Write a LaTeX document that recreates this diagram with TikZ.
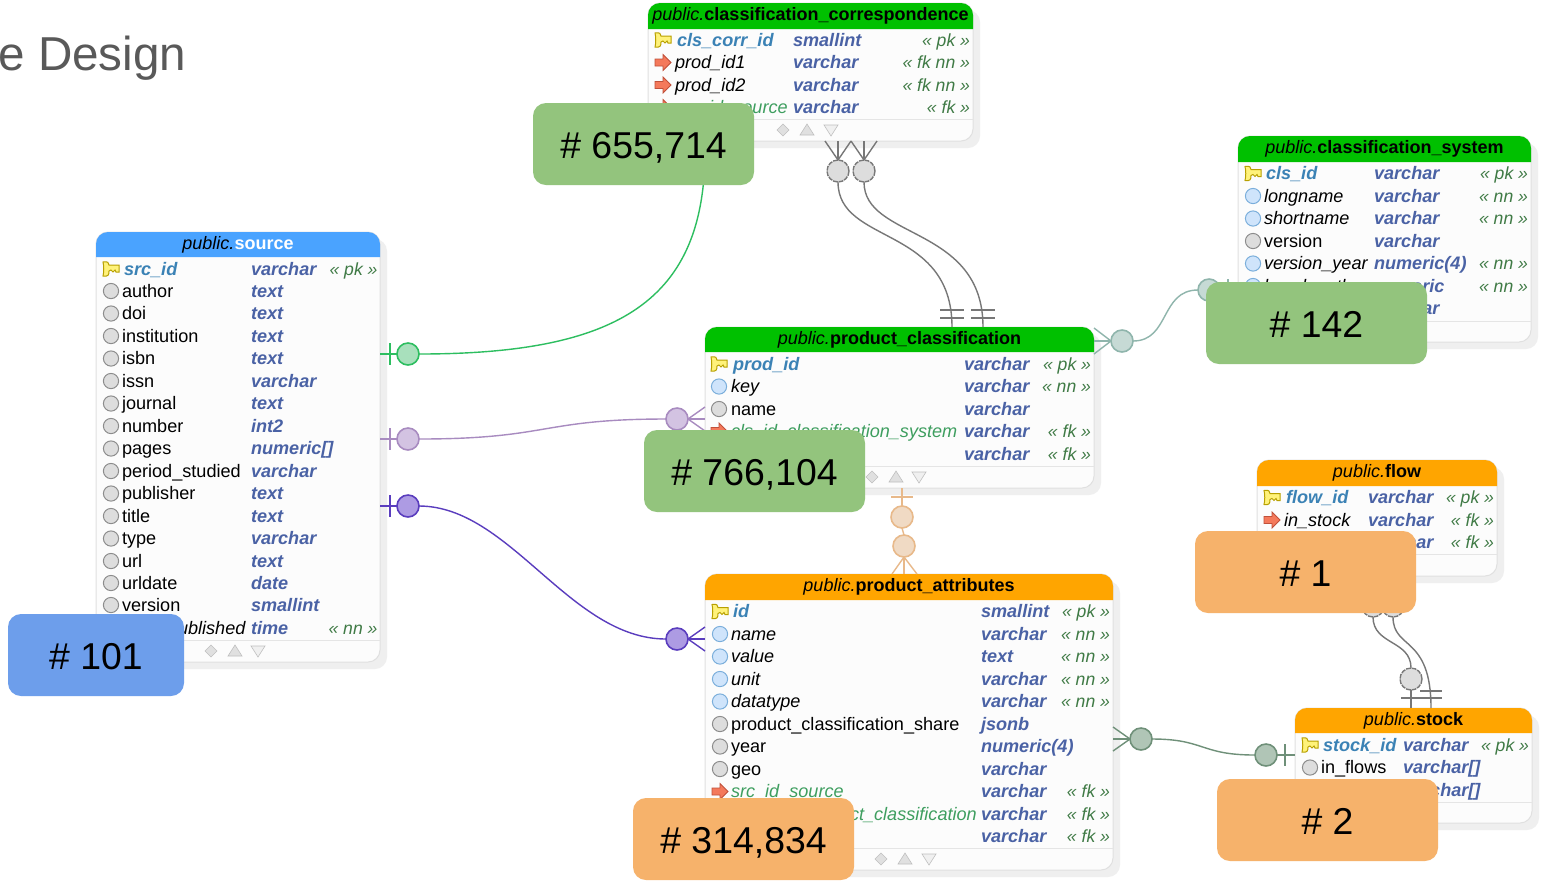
\documentclass[tikz,border=0pt]{standalone}
\usepackage{fontspec}
\setmainfont{Liberation Sans}
\usetikzlibrary{calc}
\definecolor{hgreen}{HTML}{00C000}
\definecolor{hblue}{HTML}{4AA3FF}
\definecolor{horange}{HTML}{FFA500}
\definecolor{typec}{HTML}{4A62A5}
\definecolor{pkc}{HTML}{3B82B5}
\definecolor{fkname}{HTML}{3E9E5F}
\definecolor{flagc}{HTML}{3F7A45}
\definecolor{shadowc}{HTML}{EFEFEF}
\definecolor{bodyc}{HTML}{FCFCFC}
\definecolor{calg}{HTML}{93C47D}
\definecolor{calo}{HTML}{F6B26B}
\definecolor{calb}{HTML}{6D9EEB}
\definecolor{titlec}{HTML}{595959}
\definecolor{gcs}{HTML}{2DBE60}\definecolor{gcf}{HTML}{A8E0BC}
\definecolor{pcs}{HTML}{A88BC0}\definecolor{pcf}{HTML}{D3C3E2}
\definecolor{vcs}{HTML}{5A3DBE}\definecolor{vcf}{HTML}{AD9BE3}
\definecolor{ncs}{HTML}{777777}\definecolor{ncf}{HTML}{DDDDDD}
\definecolor{tcs}{HTML}{8FB5AC}\definecolor{tcf}{HTML}{C6DAD5}
\definecolor{ocs}{HTML}{E8B98A}\definecolor{ocf}{HTML}{F0DAC4}
\definecolor{dcs}{HTML}{6F9079}\definecolor{dcf}{HTML}{B0C5B6}
\definecolor{keyf}{HTML}{FFF27A}\definecolor{keyd}{HTML}{B8A000}
\definecolor{fkf}{HTML}{F4795B}\definecolor{fkd}{HTML}{C0503A}
\definecolor{dotbf}{HTML}{CFE4FB}\definecolor{dotbd}{HTML}{7AAEDB}
\newcommand\rowfont{\fontsize{9.05pt}{11pt}\selectfont}
\newcommand\flagfont{\fontsize{8.8pt}{11pt}\selectfont}
\newcommand\headfont{\fontsize{9pt}{11pt}\selectfont}
\newcounter{rowno}
\tikzset{
  x=0.5pt,y=-0.5pt,
  tablebody/.style={draw=black!12,fill=bodyc,rounded corners=6pt,line width=0.5pt,inner sep=0pt,outer sep=0pt,anchor=north west},
  rowtext/.style={inner sep=0pt,outer sep=0pt,anchor=base west,font=\rowfont},
  rowflag/.style={inner sep=0pt,outer sep=0pt,anchor=base east,font=\flagfont\itshape,text=flagc},
  erdot/.style n args={2}{circle,draw=#1,fill=#2,line width=0.8pt,minimum size=11pt,inner sep=0pt,outer sep=0pt},
  erdash/.style={circle,draw=ncs,fill=ncf,line width=0.7pt,dash pattern=on 2.4pt off 0.5pt,minimum size=11pt,inner sep=0pt,outer sep=0pt},
  link/.style={line width=0.7pt},
  callout/.style={rounded corners=6.5pt,inner sep=0pt,outer sep=0pt,minimum width=110.5pt,minimum height=41pt,anchor=north west,text=black,font=\fontsize{18.7pt}{22pt}\selectfont},
  keyicon/.pic={\path[fill=keyf,draw=keyd,line width=0.5pt]
     (-8,-7) .. controls (-3,-8) and (-2,-6) .. (-2,-4) -- (8,-4) -- (8,3) -- (5,3) -- (4,1) -- (2,3) -- (0,1) -- (-2,2)
     .. controls (-2,6) and (-3,8) .. (-8,7) .. controls (-7,3) and (-7,-3) .. (-8,-7) -- cycle;},
  fkicon/.pic={\path[fill=fkf,draw=fkd,line width=0.4pt]
     (-8,-3.5) -- (0,-3.5) -- (0,-8) -- (8,0) -- (0,8) -- (0,3.5) -- (-8,3.5) -- cycle;},
  dotgrey/.pic={\path[fill=ncf,draw=black!45,line width=0.5pt] (0,0) circle (3.8pt);},
  dotblue/.pic={\path[fill=dotbf,draw=dotbd,line width=0.5pt] (0,0) circle (3.8pt);},
}
% name, x0, y0, x1, y1, header bottom, colour, title-text
\newcommand\dbtable[8]{%
  \fill[shadowc,rounded corners=6pt] (#2+7,#3+7) rectangle (#4+7,#5+7);
  \pgfmathsetmacro\tw{(#4-#2)*0.5}\pgfmathsetmacro\th{(#5-#3)*0.5}
  \node[tablebody,minimum width=\tw pt,minimum height=\th pt] (#1) at (#2,#3) {};
  \fill[#7] (#2,#6) {[rounded corners=6pt] -- (#2,#3) -- (#4,#3)} -- (#4,#6) -- cycle;
  \node[inner sep=0pt,anchor=base,font=\headfont] (#1-title) at ({(#2+#4)/2},#3+17) {#8};
}
% icon x, name x, type x, flag right x
\newcommand\cols[4]{\def\ix{#1}\def\nx{#2}\def\tx{#3}\def\fx{#4}}
% y, icon pic, name (formatted), type, flag
\newcommand\dbrow[5]{%
  \stepcounter{rowno}%
  \ifx\relax#2\relax\else\pic at (\ix,#1) {#2};\fi
  \node[rowtext] (r\arabic{rowno}n) at (\nx,#1+6) {#3};
  \node[rowtext,text=typec,font=\rowfont\bfseries\itshape] (r\arabic{rowno}t) at (\tx,#1+6) {#4};
  \node[rowflag] (r\arabic{rowno}f) at (\fx,#1+6) {#5};
}
\newcommand\pkn[1]{\hspace*{1pt}\textcolor{pkc}{\bfseries\itshape #1}}
\newcommand\nnn[1]{\textit{#1}}
\newcommand\fkn[1]{\textcolor{fkname}{\itshape #1}}
\newcommand\foot[3]{%
  \fill[black!12,draw=black!25,line width=0.3pt] (#1-6,#3) -- (#1,#3-6) -- (#1+6,#3) -- (#1,#3+6) -- cycle;
  \fill[black!12,draw=black!25,line width=0.3pt] (#1+24-7,#3+5) -- (#1+24,#3-6) -- (#1+24+7,#3+5) -- cycle;
  \fill[black!6,draw=black!25,line width=0.3pt] (#2-7,#3-5) -- (#2,#3+6) -- (#2+7,#3-5) -- cycle;
}
\newcommand\divider[3]{\draw[black!10,line width=0.5pt] (#1,#3) -- (#2,#3);}
\newcommand\caltext[1]{\smash{\raisebox{-7pt}{#1}}}
\begin{document}
\begin{tikzpicture}
\useasboundingbox (0,0) rectangle (1541,880);
\fill[white] (0,0) rectangle (1541,880);
\node[inner sep=0pt,anchor=base west,text=titlec,font=\fontsize{23.8pt}{28pt}\selectfont] (pagetitle) at (-2,70) {e Design};

% ---------- source
\dbtable{source}{96}{232}{380}{662}{257}{hblue}{\textit{public.}\textcolor{white}{\bfseries source}}
\cols{111}{122}{251}{377.5}
\dbrow{269}{keyicon}{\pkn{src\_id}}{varchar}{« pk »}
\dbrow{291}{dotgrey}{author}{text}{}
\dbrow{313.5}{dotgrey}{doi}{text}{}
\dbrow{336}{dotgrey}{institution}{text}{}
\dbrow{358.5}{dotgrey}{isbn}{text}{}
\dbrow{381}{dotgrey}{issn}{varchar}{}
\dbrow{403.5}{dotgrey}{journal}{text}{}
\dbrow{426}{dotgrey}{number}{int2}{}
\dbrow{448.5}{dotgrey}{pages}{numeric[]}{}
\dbrow{471}{dotgrey}{period\_studied}{varchar}{}
\dbrow{493.5}{dotgrey}{publisher}{text}{}
\dbrow{516}{dotgrey}{title}{text}{}
\dbrow{538.5}{dotgrey}{type}{varchar}{}
\dbrow{561}{dotgrey}{url}{text}{}
\dbrow{583}{dotgrey}{urldate}{date}{}
\dbrow{605}{dotgrey}{version}{smallint}{}
\cols{111}{178}{251}{377.5}
\dbrow{628}{}{\nnn{ublished}}{time}{« nn »}
\divider{96}{380}{640}
\foot{211}{258}{651}

% ---------- classification_correspondence
\dbtable{corr}{648}{3}{973}{141}{29}{hgreen}{\textit{public.}\textbf{classification\_correspondence}}
\cols{663}{675}{793}{970}
\dbrow{40}{keyicon}{\pkn{cls\_corr\_id}}{smallint}{« pk »}
\dbrow{62.5}{fkicon}{\nnn{prod\_id1}}{varchar}{« fk nn »}
\dbrow{85}{fkicon}{\nnn{prod\_id2}}{varchar}{« fk nn »}
\dbrow{107.5}{fkicon}{\fkn{src\_id\_source}}{varchar}{« fk »}
\divider{648}{973}{119}
\foot{783}{831}{130}

% ---------- classification_system
\dbtable{system}{1238}{136}{1531}{342}{162}{hgreen}{\textit{public.}\textbf{classification\_system}}
\cols{1253}{1264}{1374}{1528}
\dbrow{173.5}{keyicon}{\pkn{cls\_id}}{varchar}{« pk »}
\dbrow{196}{dotblue}{\nnn{longname}}{varchar}{« nn »}
\dbrow{218.5}{dotblue}{\nnn{shortname}}{varchar}{« nn »}
\dbrow{241}{dotgrey}{version}{varchar}{}
\dbrow{263.5}{dotblue}{\nnn{version\_year}}{numeric(4)}{« nn »}
\dbrow{286}{dotblue}{\nnn{key\_length}}{numeric}{« nn »}
\dbrow{308.5}{}{}{varchar}{}
\divider{1238}{1531}{321}

% ---------- product_classification
\dbtable{prodcls}{705}{327}{1094}{488}{352}{hgreen}{\textit{public.}\textbf{product\_classification}}
\cols{719}{731}{964}{1091}
\dbrow{364}{keyicon}{\pkn{prod\_id}}{varchar}{« pk »}
\dbrow{386.5}{dotblue}{\nnn{key}}{varchar}{« nn »}
\dbrow{409}{dotgrey}{name}{varchar}{}
\dbrow{431}{fkicon}{\fkn{cls\_id\_classification\_system}}{varchar}{« fk »}
\dbrow{454}{}{}{varchar}{« fk »}
\divider{705}{1094}{466}
\foot{872}{919}{477}

% ---------- product_attributes
\dbtable{prodattr}{705}{574}{1113}{870}{600}{horange}{\textit{public.}\textbf{product\_attributes}}
\cols{720}{731}{981}{1110}
\dbrow{611.5}{keyicon}{\pkn{id}}{smallint}{« pk »}
\dbrow{634}{dotblue}{\nnn{name}}{varchar}{« nn »}
\dbrow{656.5}{dotblue}{\nnn{value}}{text}{« nn »}
\dbrow{679}{dotblue}{\nnn{unit}}{varchar}{« nn »}
\dbrow{701.5}{dotblue}{\nnn{datatype}}{varchar}{« nn »}
\dbrow{724}{dotgrey}{product\_classification\_share}{jsonb}{}
\dbrow{746.5}{dotgrey}{year}{numeric(4)}{}
\dbrow{769}{dotgrey}{geo}{varchar}{}
\dbrow{791.5}{fkicon}{\fkn{src\_id\_source}}{varchar}{« fk »}
\cols{720}{850}{981}{1110}
\dbrow{814}{}{\fkn{ct\_classification}}{varchar}{« fk »}
\dbrow{836.5}{}{}{varchar}{« fk »}
\divider{705}{1113}{848}
\foot{881}{929}{859}

% ---------- flow
\dbtable{flow}{1257}{460}{1497}{576}{486}{horange}{\textit{public.}\textbf{flow}}
\cols{1272}{1284}{1368}{1494}
\dbrow{497.5}{keyicon}{\pkn{flow\_id}}{varchar}{« pk »}
\dbrow{520}{fkicon}{\nnn{in\_stock}}{varchar}{« fk »}
\dbrow{542.5}{}{}{varchar}{« fk »}
\divider{1257}{1497}{554}

% ---------- stock
\dbtable{stock}{1295}{708}{1532}{823}{733}{horange}{\textit{public.}\textbf{stock}}
\cols{1310}{1321}{1403}{1529}
\dbrow{745}{keyicon}{\pkn{stock\_id}}{varchar}{« pk »}
\dbrow{767.5}{dotgrey}{in\_flows}{varchar[]}{}
\dbrow{790}{}{}{varchar[]}{}
\divider{1295}{1532}{802}

% ---------- markers
\node[erdot={gcs}{gcf}] (g1) at (408,354) {};
\node[erdot={pcs}{pcf}] (p1) at (408,439) {};
\node[erdot={pcs}{pcf}] (p2) at (677,419) {};
\node[erdot={vcs}{vcf}] (v1) at (408,506) {};
\node[erdot={vcs}{vcf}] (v2) at (677,639) {};
\node[erdash] (n1) at (838,171) {};
\node[erdash] (n2) at (864,171) {};
\node[erdot={tcs}{tcf}] (t1) at (1122,341) {};
\node[erdot={tcs}{tcf}] (t2) at (1209,290) {};
\node[erdot={ocs}{ocf}] (o1) at (902,517) {};
\node[erdot={ocs}{ocf}] (o2) at (904,546) {};
\node[erdot={dcs}{dcf}] (d1) at (1141,739) {};
\node[erdot={dcs}{dcf}] (d2) at (1266,755) {};
\node[erdash] (f1) at (1373,606) {};
\node[erdash] (f2) at (1393,606) {};
\node[erdash] (s1) at (1411,679) {};

% ---------- green: source - correspondence (runs under the callout)
\coordinate (gEnd) at (705,150);
\draw[link,gcs] (g1.east) .. controls (620,354) and (705,300) .. (gEnd);
\draw[link,gcs] (g1.west) -- (source.east |- g1);
\draw[link,gcs] (390,343) -- (390,365);
% ---------- purple
\draw[link,pcs] (p1.east) .. controls (550,439) and (540,419) .. (p2.west);
\draw[link,pcs] (p1.west) -- (source.east |- p1);
\draw[link,pcs] (390,428) -- (390,450);
\draw[link,pcs] (p2.east) -- (prodcls.west |- p2);
\draw[link,pcs] (p2.east) -- (705,407);
\draw[link,pcs] (p2.east) -- (705,431);
% ---------- violet
\draw[link,vcs] (v1.east) .. controls (510,506) and (570,639) .. (v2.west);
\draw[link,vcs] (v1.west) -- (source.east |- v1);
\draw[link,vcs] (390,495) -- (390,517);
\draw[link,vcs] (v2.east) -- (prodattr.west |- v2);
\draw[link,vcs] (v2.east) -- (705,627);
\draw[link,vcs] (v2.east) -- (705,651);
% ---------- grey: correspondence - product_classification
\draw[link,ncs] (n1.north) -- (n1.north |- corr.south);
\draw[link,ncs] (n1.north) -- (825,141);
\draw[link,ncs] (n1.north) -- (851,141);
\draw[link,ncs] (n2.north) -- (n2.north |- corr.south);
\draw[link,ncs] (n2.north) -- (851,141);
\draw[link,ncs] (n2.north) -- (877,141);
\coordinate (pc1) at (952,327);
\coordinate (pc2) at (983,327);
\draw[link,ncs] (n1.south) .. controls (838,245) and (952,225) .. (pc1);
\draw[link,ncs] (n2.south) .. controls (864,240) and (983,225) .. (pc2);
\draw[link,ncs] (940,310) -- (964,310) (940,318) -- (964,318);
\draw[link,ncs] (971,310) -- (995,310) (971,318) -- (995,318);
% ---------- teal
\draw[link,tcs] (t1.east) .. controls (1170,341) and (1160,290) .. (t2.west);
\draw[link,tcs] (t1.west) -- (prodcls.east |- t1);
\draw[link,tcs] (t1.west) -- (1094,328);
\draw[link,tcs] (t1.west) -- (1094,354);
\draw[link,tcs] (t2.east) -- (system.west |- t2);
\draw[link,tcs] (1228,279) -- (1228,301);
% ---------- orange
\draw[link,ocs] (o1.north) -- (o1.north |- prodcls.south);
\draw[link,ocs] (891,497) -- (913,497);
\draw[link,ocs] (o1.south) -- (o2.north);
\draw[link,ocs] (o2.south) -- (o2.south |- prodattr.north);
\draw[link,ocs] (o2.south) -- (892,574);
\draw[link,ocs] (o2.south) -- (917,574);
% ---------- dark green
\draw[link,dcs] (d1.east) .. controls (1205,739) and (1200,755) .. (d2.west);
\draw[link,dcs] (d1.west) -- (prodattr.east |- d1);
\draw[link,dcs] (d1.west) -- (1113,727);
\draw[link,dcs] (d1.west) -- (1113,751);
\draw[link,dcs] (d2.east) -- (stock.west |- d2);
\draw[link,dcs] (1285,744) -- (1285,766);
% ---------- grey: flow - stock
\coordinate (st2) at (1431,708);
\draw[link,ncs] (f1.south) .. controls (1373,645) and (1411,640) .. (s1.north);
\draw[link,ncs] (f2.south) .. controls (1393,650) and (1431,635) .. (st2);
\draw[link,ncs] (s1.south) -- (s1.south |- stock.north);
\draw[link,ncs] (1401,698) -- (1442,698);
\draw[link,ncs] (1420,691) -- (1442,691);

% ---------- callouts
\node[callout,fill=calg] (c655) at (533,103) {\caltext{\# 655,714}};
\node[callout,fill=calg] (c766) at (644,430) {\caltext{\# 766,104}};
\node[callout,fill=calg] (c142) at (1206,282) {\caltext{\# 142}};
\node[callout,fill=calo] (c1) at (1195,531) {\caltext{\# 1}};
\node[callout,fill=calo] (c2) at (1217,779) {\caltext{\# 2}};
\node[callout,fill=calo] (c314) at (633,798) {\caltext{\# 314,834}};
\node[callout,fill=calb,minimum width=88pt] (c101) at (8,614) {\caltext{\# 101}};
\end{tikzpicture}
\end{document}
